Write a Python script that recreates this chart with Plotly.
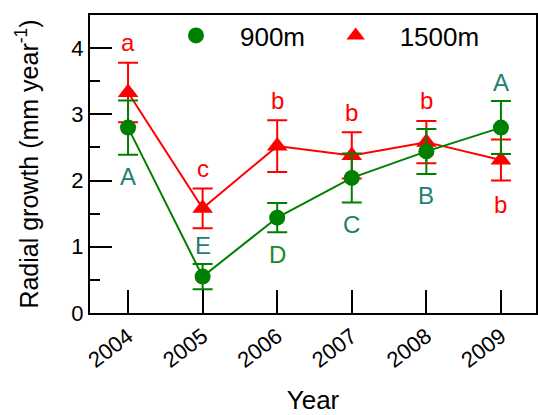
import plotly.graph_objects as go

years = [2004, 2005, 2006, 2007, 2008, 2009]

g900_mean = [2.80, 0.55, 1.44, 2.04, 2.44, 2.80]
g900_err = [0.41, 0.19, 0.22, 0.37, 0.34, 0.40]
g900_letters = ["A", "E", "D", "C", "B", "A"]
g900_side = ["below", "above", "below", "below", "below", "above"]
g900_letter_colors = ["#1d7f72", "#1d7f72", "#1a8a1a", "#1d7f72", "#1d7f72", "#1d7f72"]

g1500_mean = [3.33, 1.58, 2.52, 2.38, 2.58, 2.31]
g1500_err = [0.45, 0.30, 0.39, 0.35, 0.32, 0.31]
g1500_letters = ["a", "c", "b", "b", "b", "b"]
g1500_side = ["above", "above", "above", "above", "above", "below"]

y_major = [0, 1, 2, 3, 4]
y_minor = [0.5, 1.5, 2.5, 3.5]

GREEN = "#008000"
RED = "#ff0000"
FONT = "Arial, Liberation Sans, sans-serif"

fig = go.Figure()

# carrier for the minor-tick overlay axis
fig.add_trace(go.Scatter(x=[None], y=[None], yaxis="y2", showlegend=False, hoverinfo="skip"))

fig.add_trace(go.Scatter(
    x=years, y=g1500_mean, mode="lines+markers", showlegend=False,
    line=dict(color=RED, width=2),
    marker=dict(symbol="triangle-up", size=18, color=RED),
    error_y=dict(type="data", array=g1500_err, color=RED, thickness=2, width=10),
))
fig.add_trace(go.Scatter(
    x=years, y=g900_mean, mode="lines+markers", showlegend=False,
    line=dict(color=GREEN, width=2),
    marker=dict(symbol="circle", size=16, color=GREEN),
    error_y=dict(type="data", array=g900_err, color=GREEN, thickness=2, width=10),
))

# legend-only traces
fig.add_trace(go.Scatter(x=[None], y=[None], mode="markers", name="900m",
                         marker=dict(symbol="circle", size=16, color=GREEN), legend="legend"))
fig.add_trace(go.Scatter(x=[None], y=[None], mode="markers", name="1500m",
                         marker=dict(symbol="triangle-up", size=18, color=RED), legend="legend2"))

SHIFT = 19
for x, m, e, t, s, c in zip(years, g900_mean, g900_err, g900_letters, g900_side, g900_letter_colors):
    yv = m + e if s == "above" else m - e
    fig.add_annotation(x=x, y=yv, text=t, showarrow=False, yanchor="middle",
                       yshift=SHIFT if s == "above" else -SHIFT - 3,
                       font=dict(size=24, color=c, family=FONT))
for x, m, e, t, s in zip(years, g1500_mean, g1500_err, g1500_letters, g1500_side):
    yv = m + e if s == "above" else m - e
    fig.add_annotation(x=x, y=yv, text=t, showarrow=False, yanchor="middle",
                       yshift=SHIFT + 1 if s == "above" else -SHIFT - 5,
                       font=dict(size=24, color=RED, family=FONT))

fig.update_layout(
    width=538, height=415,
    margin=dict(l=90, r=2, t=15, b=102),
    paper_bgcolor="white", plot_bgcolor="white",
    font=dict(family=FONT, color="black"),
    legend=dict(orientation="h", x=0.139, y=1.01, xanchor="left", yanchor="top",
                font=dict(size=26), itemwidth=78, bgcolor="rgba(0,0,0,0)"),
    legend2=dict(orientation="h", x=0.497, y=1.01, xanchor="left", yanchor="top",
                 font=dict(size=26), itemwidth=78, bgcolor="rgba(0,0,0,0)"),
    xaxis=dict(
        range=[2003.49, 2009.47], tickvals=years, ticktext=[str(y) for y in years],
        ticks="inside", ticklen=23, tickwidth=2, tickcolor="black",
        showline=True, linewidth=2, linecolor="black", mirror=True,
        showgrid=False, zeroline=False, tickangle=-37, automargin=False,
        tickfont=dict(size=22, color="black"),
        title=dict(text="Year", font=dict(size=26), standoff=28),
    ),
    yaxis=dict(
        range=[0, 4.5], tickvals=y_major,
        ticks="inside", ticklen=22, tickwidth=2, tickcolor="black",
        showline=True, linewidth=2, linecolor="black", mirror=True,
        showgrid=False, zeroline=False, automargin=False,
        tickfont=dict(size=22, color="black"),
        title=dict(text="Radial growth (mm year<sup>-1</sup>)", font=dict(size=25), standoff=26),
    ),
    yaxis2=dict(
        range=[0, 4.5], overlaying="y", side="left", tickvals=y_minor,
        ticks="inside", ticklen=10, tickwidth=2, tickcolor="black",
        showticklabels=False, showline=False, showgrid=False, zeroline=False,
        automargin=False,
    ),
)

fig.write_html("out.html")
